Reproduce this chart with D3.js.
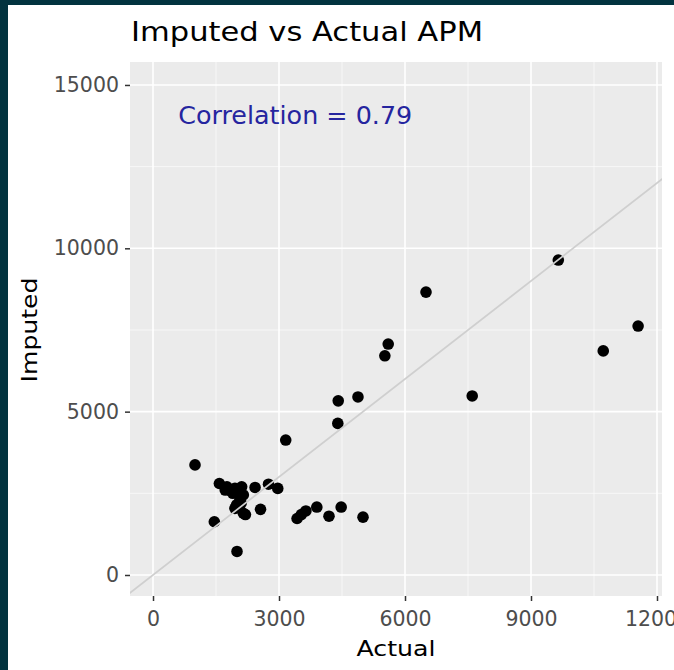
<!DOCTYPE html>
<html>
<head>
<meta charset="utf-8">
<script src="https://cdn.jsdelivr.net/npm/d3@7"></script>
<style>
  html, body { margin: 0; padding: 0; background: #02333f; }
  svg { display: block; }
  text { font-family: "DejaVu Sans", sans-serif; }
</style>
</head>
<body>
<script>
// ---- data ----
const actual = [1000, 1460, 1580, 1720, 1760, 1830, 1900, 1950, 2050, 2110, 2150, 2070, 1990, 1950, 2100, 2150, 2200, 2000, 2430, 2560, 2750, 2970, 3160, 3430, 3530, 3640, 3900, 4190, 4480, 5000, 4400, 4410, 4880, 5520, 5600, 6500, 7600, 9650, 10720, 11550];
const imputed = [3370, 1630, 2800, 2600, 2700, 2590, 2500, 2650, 2600, 2700, 2450, 2300, 2150, 2040, 2200, 1890, 1850, 720, 2680, 2010, 2780, 2650, 4130, 1730, 1850, 1960, 2080, 1800, 2080, 1770, 4640, 5330, 5450, 6710, 7070, 8660, 5480, 9640, 6860, 7620];
const xTicks = [0, 3000, 6000, 9000, 12000];
const xMinor = [1500, 4500, 7500, 10500];
const yTicks = [0, 5000, 10000, 15000];
const yMinor = [2500, 7500, 12500];
const titleText = "Imputed vs Actual APM";
const corrLabel = "Correlation = 0.79";
const corrPos = [600, 14000];
const xTitle = "Actual";
const yTitle = "Imputed";

// ---- layout ----
const W = 674, H = 670;
const P = { left: 130, right: 662, top: 62, bottom: 596 };

const svg = d3.select("body").append("svg").attr("width", W).attr("height", H);
svg.append("rect").attr("x", 0).attr("y", 0).attr("width", W).attr("height", H).attr("fill", "#02333f");
svg.append("rect").attr("x", 8).attr("y", 5).attr("width", W - 8).attr("height", H - 5).attr("fill", "#ffffff");

const x = d3.scaleLinear().domain([-548, 12119]).range([P.left, P.right]);
const y = d3.scaleLinear().domain([-643, 15703]).range([P.bottom, P.top]);

svg.append("clipPath").attr("id", "clip").append("rect")
  .attr("x", P.left).attr("y", P.top).attr("width", P.right - P.left).attr("height", P.bottom - P.top);

// panel
svg.append("rect").attr("x", P.left).attr("y", P.top)
  .attr("width", P.right - P.left).attr("height", P.bottom - P.top).attr("fill", "#ebebeb");

const g = svg.append("g").attr("clip-path", "url(#clip)");
// minor grid
g.selectAll(".xm").data(xMinor).enter().append("line")
  .attr("x1", d => x(d)).attr("x2", d => x(d)).attr("y1", P.top).attr("y2", P.bottom)
  .attr("stroke", "#fafafa").attr("stroke-width", 0.8);
g.selectAll(".ym").data(yMinor).enter().append("line")
  .attr("y1", d => y(d)).attr("y2", d => y(d)).attr("x1", P.left).attr("x2", P.right)
  .attr("stroke", "#fafafa").attr("stroke-width", 0.8);
// major grid
g.selectAll(".xg").data(xTicks).enter().append("line")
  .attr("x1", d => x(d)).attr("x2", d => x(d)).attr("y1", P.top).attr("y2", P.bottom)
  .attr("stroke", "#ffffff").attr("stroke-width", 1.6);
g.selectAll(".yg").data(yTicks).enter().append("line")
  .attr("y1", d => y(d)).attr("y2", d => y(d)).attr("x1", P.left).attr("x2", P.right)
  .attr("stroke", "#ffffff").attr("stroke-width", 1.6);

// points
const pts = actual.map((a, i) => ({ a, b: imputed[i] }));
g.selectAll("circle").data(pts).enter().append("circle")
  .attr("cx", d => x(d.a)).attr("cy", d => y(d.b)).attr("r", 5.8).attr("fill", "#000");

// y = x line
const lo = -1000, hi = 16000;
g.append("line").attr("x1", x(lo)).attr("y1", y(lo)).attr("x2", x(hi)).attr("y2", y(hi))
  .attr("stroke", "#cfcfcf").attr("stroke-width", 1.7);

// correlation label
svg.append("text").attr("x", x(corrPos[0])).attr("y", y(corrPos[1]) + 6)
  .attr("font-size", 24).attr("fill", "#25259f")
  .attr("textLength", 234).attr("lengthAdjust", "spacingAndGlyphs")
  .text(corrLabel);

// axes
const xAxis = svg.append("g").attr("transform", `translate(0,${P.bottom})`)
  .call(d3.axisBottom(x).tickValues(xTicks).tickSize(5).tickPadding(10).tickFormat(d3.format("d")));
xAxis.select(".domain").remove();
xAxis.selectAll("line").attr("stroke", "#333").attr("stroke-width", 1.5);
xAxis.selectAll("text").attr("font-size", 20.5).attr("fill", "#4d4d4d").attr("font-family", "DejaVu Sans");

const yAxis = svg.append("g").attr("transform", `translate(${P.left},0)`)
  .call(d3.axisLeft(y).tickValues(yTicks).tickSize(5).tickPadding(6).tickFormat(d3.format("d")));
yAxis.select(".domain").remove();
yAxis.selectAll("line").attr("stroke", "#333").attr("stroke-width", 1.5);
yAxis.selectAll("text").attr("font-size", 20.5).attr("fill", "#4d4d4d").attr("font-family", "DejaVu Sans");

// titles
svg.append("text").attr("x", 131).attr("y", 41).attr("font-size", 27).attr("fill", "#000")
  .attr("textLength", 352).attr("lengthAdjust", "spacingAndGlyphs").text(titleText);
svg.append("text").attr("x", 396).attr("y", 656).attr("text-anchor", "middle")
  .attr("font-size", 22).attr("fill", "#000")
  .attr("textLength", 79).attr("lengthAdjust", "spacingAndGlyphs").text(xTitle);
svg.append("text").attr("transform", "translate(37,330) rotate(-90)").attr("text-anchor", "middle")
  .attr("font-size", 21.5).attr("fill", "#000")
  .attr("textLength", 105).attr("lengthAdjust", "spacingAndGlyphs").text(yTitle);
</script>
</body>
</html>
